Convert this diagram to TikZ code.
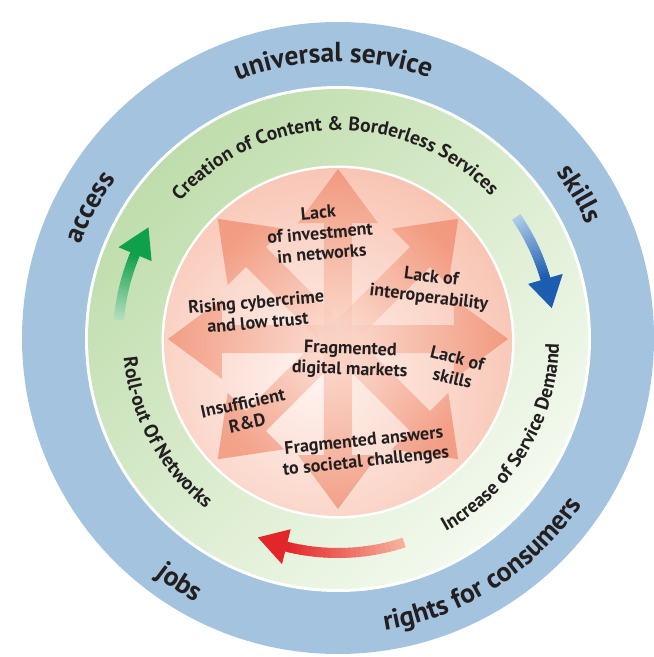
\documentclass[tikz,border=0pt]{standalone}
\usepackage{fontspec}
\setmainfont{PT Sans}
\usepackage{tikz}
\usetikzlibrary{decorations.text}

\definecolor{ringblue}{HTML}{A3C3DE}
\definecolor{ringgreen}{HTML}{BFDDAC}
\definecolor{ringgreenlight}{HTML}{F4FAEF}
\definecolor{corepink}{HTML}{F3A084}
\definecolor{corelight}{HTML}{FFF3EF}
\definecolor{spokedark}{HTML}{EE7C5B}
\definecolor{spokelight}{HTML}{FAD3C4}
\definecolor{greenhead}{HTML}{0FA04B}
\definecolor{greentail}{HTML}{B2DDBC}
\definecolor{bluehead}{HTML}{1C5DB0}
\definecolor{bluetail}{HTML}{AFCBEB}
\definecolor{redhead}{HTML}{E3262A}
\definecolor{redtail}{HTML}{F6B09A}
\definecolor{textdark}{HTML}{231F20}

\newcommand{\outerfont}{\bfseries\fontsize{27.5}{30}\selectfont}
\newcommand{\greenfont}{\bfseries\fontsize{19.5}{22}\selectfont}

% ring arrow: start angle, end angle, radius, tail colour, head colour
\newcommand{\ringarrow}[5]{%
  \pgfmathsetmacro{\hb}{#2+sign(#1-#2)*30/#3*57.3}
  \foreach \k in {0,...,23} {
    \pgfmathsetmacro{\sa}{#1+(\hb-#1)*\k/24}
    \pgfmathsetmacro{\ea}{#1+(\hb-#1)*(\k+1.3)/24}
    \pgfmathtruncatemacro{\p}{100*\k/23}
    \draw[line width=10, #5!\p!#4] (\sa:#3) arc[start angle=\sa, end angle=\ea, radius=#3];
  }
  \fill[#5] (#2:#3) -- (\hb:#3+18) -- (\hb:#3-18) -- cycle;
}

\begin{document}
\begin{tikzpicture}[x=1pt,y=1pt,
    ringtext/.style={decorate, decoration={text along path, text align=center,
      text color=textdark}},
    spoke/.style={top color=spokedark, bottom color=spokelight, fill opacity=0.6},
    core/.style={align=center, text=textdark, font=\bfseries\fontsize{18}{20.5}\selectfont,
      inner sep=0pt}]
  \useasboundingbox (-338,-318) rectangle (316,339);

  % rings
  \fill[ringblue] (0,1) circle (316);
  \fill[white] (0,0) circle (253);
  \shade[left color=ringgreen, right color=ringgreenlight, shading angle=45] (0,0) circle (250);
  \fill[white] (0,-3) circle (176.5);
  \begin{scope}
    \clip (0,-3) circle (174);
    \shade[inner color=corelight, outer color=corepink] (-25,-40) circle (390);
  \end{scope}

  % spokes
  \foreach \a [evaluate=\a as \sa using \a-90] in {0,45,...,315}
    \shade[spoke, shading angle=\sa, rotate=\a]
      (0,-14) -- (116,-14) -- (116,-40) -- (170,0) -- (116,40) -- (116,14) -- (0,14) -- cycle;

  % outer ring texts
  \path[ringtext, decoration={text={|\outerfont|universal service}}]
    (140:277) arc[start angle=140, end angle=42, radius=277];
  \path[ringtext, decoration={text={|\outerfont|access}}]
    (185:274) arc[start angle=185, end angle=119, radius=274];
  \path[ringtext, decoration={text={|\outerfont|skills}}]
    (62:274) arc[start angle=62, end angle=0, radius=274];
  \path[ringtext, decoration={text={|\outerfont|jobs}}]
    (205:299) arc[start angle=205, end angle=269, radius=299];
  \path[ringtext, decoration={text={|\outerfont|rights for consumers}}]
    (-110:295) arc[start angle=-110, end angle=-5, radius=295];

  % green ring texts
  \path[ringtext, decoration={text={|\greenfont|Creation of Content {\&} Borderless Services}}]
    (172:209) arc[start angle=172, end angle=10, radius=209];
  \path[ringtext, decoration={text={|\greenfont|Increase of Service Demand}}]
    (-90:221) arc[start angle=-90, end angle=28, radius=221];
  \path[ringtext, decoration={text={|\greenfont|Roll-out Of Networks}}]
    (165:215) arc[start angle=165, end angle=252, radius=215];

  % ring arrows
  \ringarrow{175}{149.5}{220}{greentail}{greenhead}
  \ringarrow{34.4}{8.2}{216}{bluetail}{bluehead}
  \ringarrow{-72}{-112}{214}{redtail}{redhead}

  % core texts
  \node[core, rotate=5]   (invest)   at (-18,106)  {Lack\\of investment\\in networks};
  \node[core, rotate=-7]  (interop)  at (92,51)    {Lack of\\interoperability};
  \node[core, rotate=5]   (cyber)    at (-81,27)   {Rising cybercrime\\and low trust};
  \node[core, rotate=-2]  (markets)  at (12,-21)   {Fragmented\\digital markets};
  \node[core, rotate=-14] (skills)   at (117,-29)  {Lack of\\skills};
  \node[core, rotate=12]  (research) at (-93,-74)  {Insufficient\\R\&D};
  \node[core, rotate=6]   (societal) at (27,-113)  {Fragmented answers\\to societal challenges};
\end{tikzpicture}
\end{document}
